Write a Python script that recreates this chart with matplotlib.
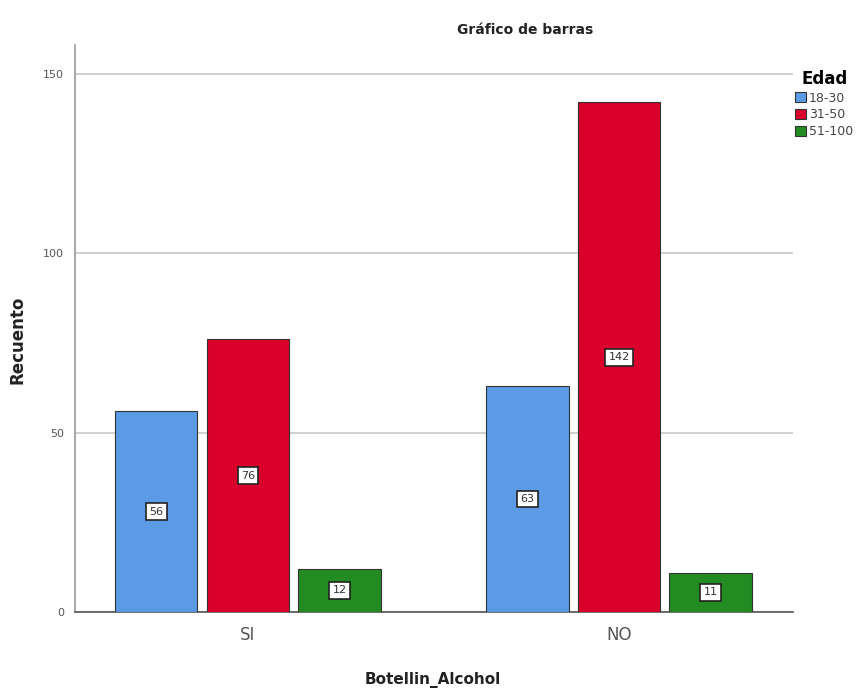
import numpy as np
import matplotlib.pyplot as plt

# Data
categories = ["SI", "NO"]
groups = ["18-30", "31-50", "51-100"]
counts = {
    "18-30": [56, 63],
    "31-50": [76, 142],
    "51-100": [12, 11],
}
colors = ["#5b9be6", "#d9002c", "#228b22"]

fig = plt.figure(figsize=(8.67, 6.94), dpi=100)
ax = fig.add_axes([75 / 867, 82 / 694, 718 / 867, 567 / 694])

x = np.arange(len(categories))
width = 0.222
step = 0.247

for i, (g, c) in enumerate(zip(groups, colors)):
    pos = x + (i - 1) * step
    vals = counts[g]
    ax.bar(pos, vals, width, color=c, edgecolor="#333333", linewidth=0.8,
           label=g, zorder=3)
    for px, v in zip(pos, vals):
        ax.text(px, v / 2, str(v), ha="center", va="center", fontsize=8,
                color="#333333", zorder=4,
                bbox=dict(boxstyle="square,pad=0.3", fc="white",
                          ec="#222222", lw=1.2))

ax.set_xlim(-0.466, 1.469)
ax.set_ylim(0, 158)
ax.set_yticks([0, 50, 100, 150])
ax.set_xticks(x)
ax.set_xticklabels(categories, fontsize=12, color="#555555")
ax.tick_params(axis="y", labelsize=8, colors="#555555", length=0, pad=8)
ax.tick_params(axis="x", length=0, pad=10)
ax.yaxis.grid(True, color="#c8c8c8", linewidth=1.2, zorder=0)
for s in ["top", "right"]:
    ax.spines[s].set_visible(False)
ax.spines["left"].set_color("#999999")
ax.spines["bottom"].set_color("#555555")
ax.spines["left"].set_linewidth(1.2)
ax.spines["bottom"].set_linewidth(1.2)

fig.text(18 / 867, 1 - 340 / 694, "Recuento", rotation=90, ha="center",
         va="center", fontsize=12, fontweight="bold", color="#222222")
fig.text(433 / 867, 1 - 680 / 694, "Botellin_Alcohol", ha="center",
         va="center", fontsize=11, fontweight="bold", color="#222222")
fig.text(525 / 867, 1 - 30 / 694, "Gráfico de barras", ha="center",
         va="center", fontsize=10, fontweight="bold", color="#222222")

leg = ax.legend(loc="upper left", bbox_to_anchor=(0.996, 0.965), frameon=False,
                title="Edad", fontsize=9, handlelength=0.9, handleheight=0.9,
                handletextpad=0.2, labelspacing=0.3, borderaxespad=0)
leg.get_title().set_fontweight("bold")
leg.get_title().set_fontsize(12)
for t in leg.get_texts():
    t.set_color("#444444")

fig.savefig("out.png", dpi=100)
